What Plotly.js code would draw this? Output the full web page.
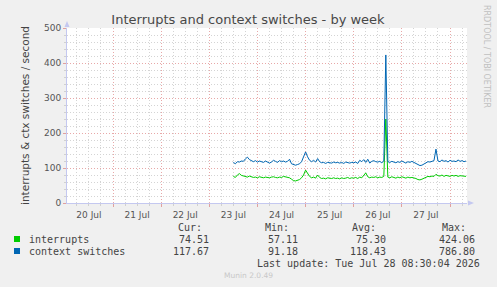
<!DOCTYPE html>
<html>
<head>
<meta charset="utf-8">
<script src="https://cdn.plot.ly/plotly-3.0.1.min.js"></script>
<style>html,body{margin:0;padding:0;background:#F0F0F0;}#chart{width:497px;height:287px;}</style>
</head>
<body>
<div id="chart"></div>
<script>
// ---- data (hourly samples starting 2026-07-23 12:00) ----
const seriesStart = [2026, 6, 23, 12]; // year, month(0-based), day, hour
const seriesNames = ["interrupts", "context switches"];
const seriesColors = ["#00CC00", "#0066B3"];
const interrupts = [
  76, 73, 80, 84, 79, 78, 76, 74, 77, 75,
  73, 74, 72, 75, 73, 72, 74, 73, 72, 74,
  75, 73, 72, 74, 73, 76, 75, 74, 72, 68,
  64, 63, 65, 67, 72, 80, 94, 85, 76, 72,
  74, 71, 80, 73, 70, 71, 69, 72, 71, 70,
  72, 70, 71, 69, 72, 70, 71, 73, 70, 72,
  71, 73, 70, 74, 72, 78, 86, 75, 72, 74,
  73, 75, 72, 74, 73, 76, 240, 74, 72, 75,
  73, 71, 74, 72, 75, 73, 71, 74, 72, 73,
  72, 70, 67, 66, 68, 70, 74, 76, 75, 77,
  76, 82, 78, 77, 80, 76, 79, 78, 76, 79,
  77, 79, 76, 78, 77, 75, 76
];
const contextSwitches = [
  116, 112, 118, 117, 120, 119, 126, 131, 124, 121,
  118, 121, 117, 120, 118, 116, 120, 118, 114, 117,
  122, 119, 116, 121, 118, 120, 117, 119, 125, 112,
  110, 108, 110, 112, 118, 130, 146, 132, 122, 118,
  122, 117, 127, 118, 115, 116, 113, 116, 115, 114,
  117, 115, 116, 114, 116, 113, 117, 115, 114, 116,
  115, 117, 113, 122, 118, 124, 116, 125, 114, 119,
  121, 118, 117, 119, 115, 120, 423, 118, 116, 119,
  117, 115, 118, 116, 120, 117, 114, 118, 116, 119,
  116, 115, 110, 107, 108, 111, 116, 118, 117, 119,
  121, 154, 120, 118, 123, 119, 121, 117, 122, 119,
  120, 118, 123, 119, 121, 118, 120
];
const legendHeaders = ["Cur:", "Min:", "Avg:", "Max:"];
const interruptsStats = ["74.51", "57.11", "75.30", "424.06"];
const contextStats = ["117.67", "91.18", "118.43", "786.80"];
const lastUpdate = "Last update: Tue Jul 28 08:30:04 2026";
const xRange = ["2026-07-20 01:04", "2026-07-28 08:28"];
const yRange = [0, 500];

// ---- helpers ----
function hourStr(i) {
  const d = new Date(Date.UTC(seriesStart[0], seriesStart[1], seriesStart[2], seriesStart[3]) + i * 3600000);
  return d.toISOString().slice(0, 19).replace('T', ' ');
}
const times = interrupts.map((_, i) => hourStr(i));

const L = 67, R = 467, T = 28, B = 203;
const PX = x => (x - L) / (R - L);
const PY = y => (B - y) / (B - T);

const mono = "DejaVu Sans Mono, monospace";
const sans = "DejaVu Sans, sans-serif";
const txt = "#444444";

const traces = [
  {x: times, y: interrupts, name: seriesNames[0], type: 'scatter', mode: 'lines',
   line: {color: seriesColors[0], width: 1}},
  {x: times, y: contextSwitches, name: seriesNames[1], type: 'scatter', mode: 'lines',
   line: {color: seriesColors[1], width: 1}}
];

const ann = [];
function a(text, x, y, xanchor, font) {
  ann.push({text, xref: 'paper', yref: 'paper', x: PX(x), y: PY(y), xanchor, yanchor: 'middle',
    showarrow: false, font: font || {family: mono, size: 10, color: txt}});
}
const hdrRight = [204, 291, 378, 468];
const numRight = [211, 300, 388, 477];
legendHeaders.forEach((h, i) => a(h, hdrRight[i], 227, 'right'));
a(seriesNames[0], 27, 239, 'left');
a(seriesNames[1], 27, 251, 'left');
interruptsStats.forEach((v, i) => a(v, numRight[i], 239, 'right'));
contextStats.forEach((v, i) => a(v, numRight[i], 251, 'right'));
a(lastUpdate, 482, 263, 'right');
a("Munin 2.0.49", 222, 275, 'left', {family: sans, size: 7.5, color: '#C8C8C8'});
ann.push({text: "RRDTOOL / TOBI OETIKER", xref: 'paper', yref: 'paper', x: PX(487), y: PY(56),
  xanchor: 'center', yanchor: 'middle', textangle: 90, showarrow: false,
  font: {family: sans, size: 8, color: '#C0C0C0'}});

const axisCol = '#C4C8F0';
const shapes = [
  {type: 'rect', xref: 'paper', yref: 'paper', x0: PX(14), x1: PX(20), y0: PY(242), y1: PY(236),
   fillcolor: seriesColors[0], line: {width: 0}},
  {type: 'rect', xref: 'paper', yref: 'paper', x0: PX(14), x1: PX(20), y0: PY(254), y1: PY(248),
   fillcolor: seriesColors[1], line: {width: 0}},
  {type: 'path', xref: 'paper', yref: 'paper',
   path: `M ${PX(64.5)} ${PY(27)} L ${PX(69.5)} ${PY(27)} L ${PX(67)} ${PY(21)} Z`,
   fillcolor: axisCol, line: {width: 0}},
  {type: 'path', xref: 'paper', yref: 'paper',
   path: `M ${PX(468)} ${PY(200.5)} L ${PX(468)} ${PY(205.5)} L ${PX(474)} ${PY(203)} Z`,
   fillcolor: axisCol, line: {width: 0}}
];

const layout = {
  width: 497, height: 287,
  margin: {l: L, r: 497 - R, t: T, b: 287 - B},
  paper_bgcolor: '#F0F0F0', plot_bgcolor: '#FFFFFF',
  showlegend: false,
  title: {text: "Interrupts and context switches - by week", xref: 'container', yref: 'container',
    x: 248 / 497, y: 1 - 19 / 287, xanchor: 'center', yanchor: 'middle',
    font: {family: sans, size: 13, color: '#484848'}},
  xaxis: {type: 'date', range: xRange, tick0: '2026-07-20', dtick: 86400000,
    ticklabelmode: 'period', tickformat: '%d %b',
    showgrid: true, gridcolor: '#E8A8A8', griddash: '1px,2px', gridwidth: 1,
    minor: {dtick: 6 * 3600000, showgrid: true, gridcolor: '#D4D4D4', griddash: '1px,2px',
            ticks: 'outside', ticklen: 2, tickcolor: '#D0D0D0'},
    ticks: 'outside', ticklen: 3, tickcolor: '#E0A0A0',
    showline: true, linecolor: axisCol, linewidth: 1, zeroline: false,
    tickfont: {family: sans, size: 9, color: '#555555'}, fixedrange: true},
  yaxis: {range: yRange, dtick: 100, tick0: 0,
    showgrid: true, gridcolor: '#E8A8A8', griddash: '1px,2px', gridwidth: 1,
    minor: {dtick: 20, showgrid: true, gridcolor: '#D4D4D4', griddash: '1px,2px',
            ticks: 'outside', ticklen: 2, tickcolor: '#D0D0D0'},
    ticks: 'outside', ticklen: 3, tickcolor: '#E0A0A0',
    showline: true, linecolor: axisCol, linewidth: 1, zeroline: false,
    tickfont: {family: sans, size: 9, color: '#555555'},
    title: {text: "interrupts & ctx switches / second", standoff: 12,
            font: {family: sans, size: 10.5, color: '#444444'}},
    fixedrange: true},
  annotations: ann,
  shapes: shapes
};

Plotly.newPlot('chart', traces, layout, {displayModeBar: false, staticPlot: true});
</script>
</body>
</html>
